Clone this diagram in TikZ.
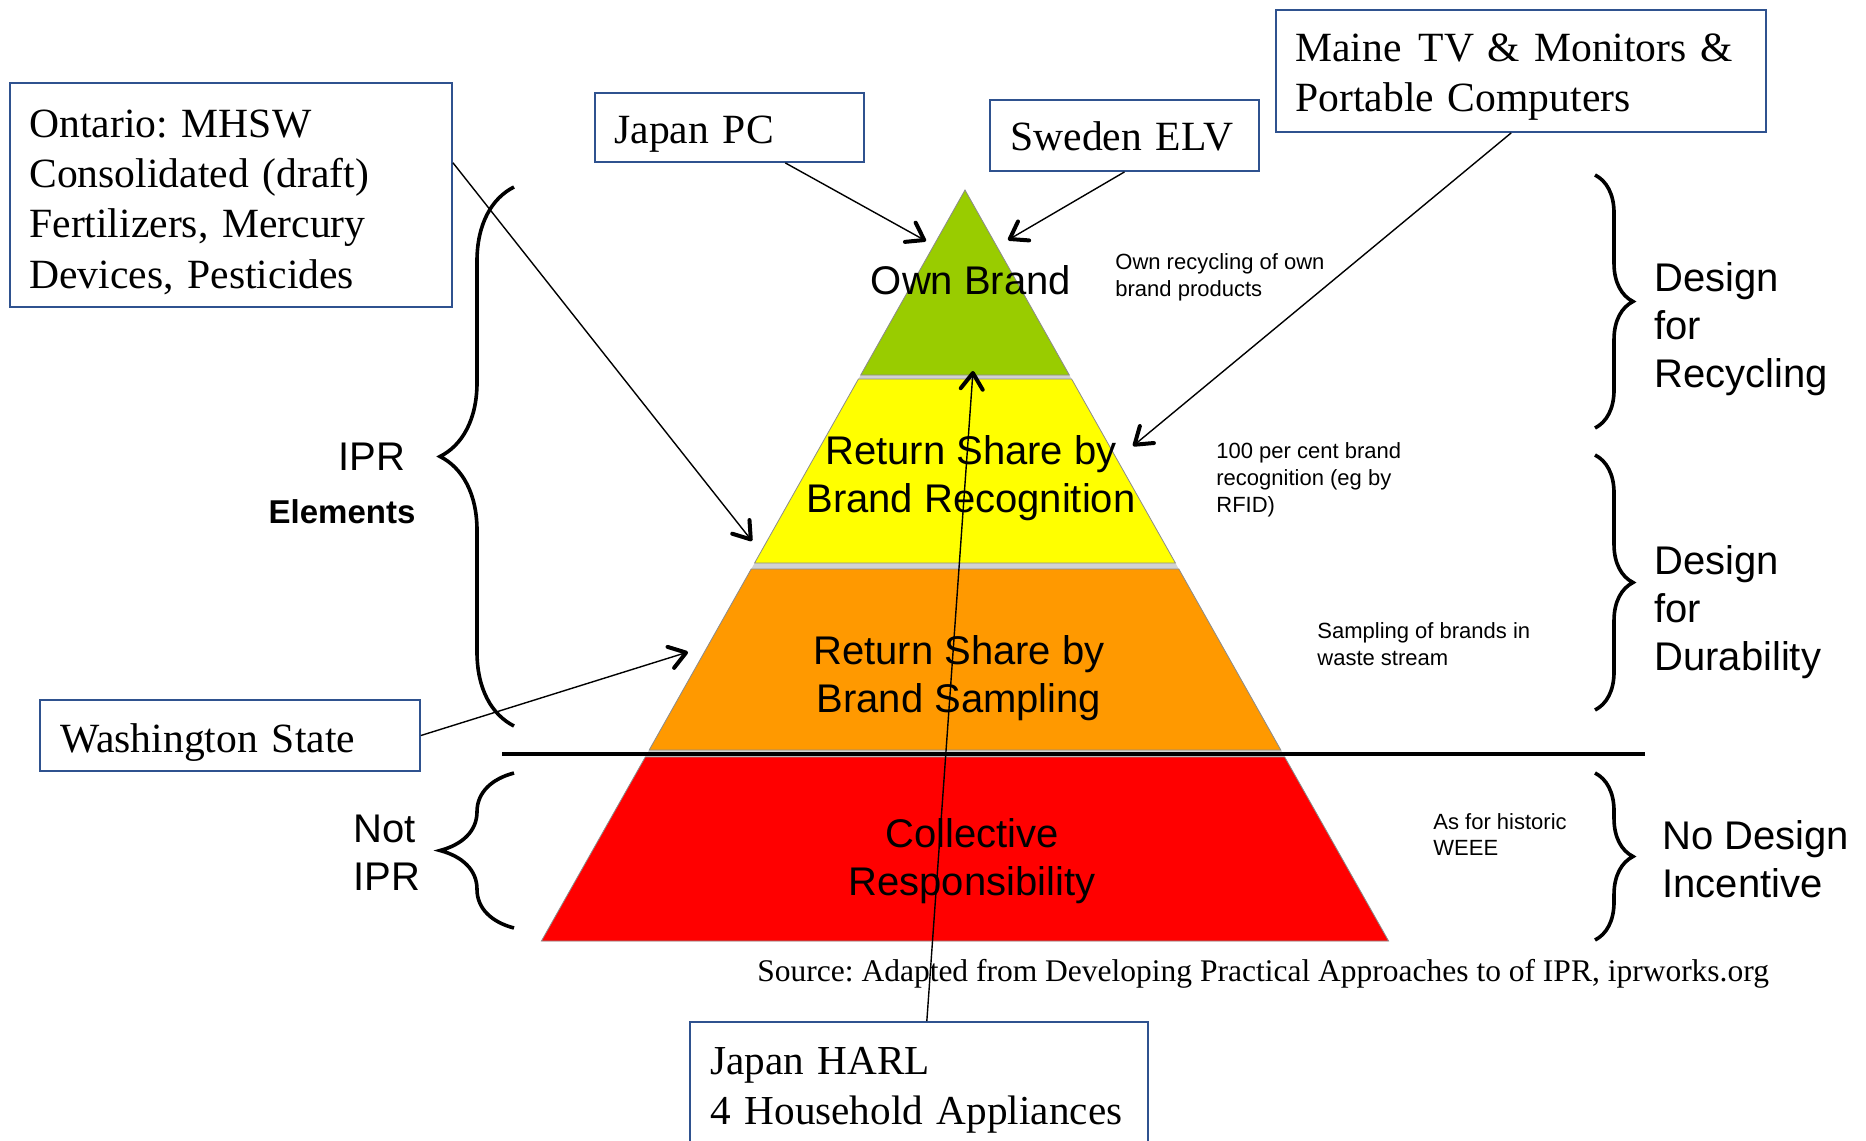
\documentclass[tikz,border=0pt]{standalone}
\usepackage{fontspec}
\setmainfont{Liberation Serif}
\newfontfamily\arialf{Liberation Sans}
\usetikzlibrary{arrows.meta,decorations.pathreplacing,calc}
\definecolor{pgreen}{RGB}{153,204,0}
\definecolor{pyellow}{RGB}{255,255,0}
\definecolor{porange}{RGB}{255,153,0}
\definecolor{pred}{RGB}{255,0,0}
\definecolor{boxblue}{RGB}{47,82,143}
\frenchspacing
\begin{document}
\begin{tikzpicture}[x=0.5pt,y=-0.5pt,
  band/.style={draw=black!45, line width=0.4pt},
  pyrtext/.style={font=\arialf\fontsize{20pt}{24pt}\selectfont, align=center, inner sep=0pt},
  note/.style={font=\arialf\fontsize{11pt}{13.6pt}\selectfont, align=left, anchor=west, inner sep=0pt},
  side/.style={font=\arialf\fontsize{20pt}{24pt}\selectfont, align=left, anchor=west, inner sep=0pt},
  frame/.style={draw=boxblue, line width=0.9pt, fill=white, inner sep=0pt},
  boxtext/.style={font=\fontsize{20.8pt}{25.2pt}\selectfont, align=left, text width=260pt, anchor=base west, inner sep=0pt},
  conn/.style={line width=0.7pt, -{Straight Barb[length=8pt,width=11pt,line width=2pt,round]}},
  lbrace/.style={decorate, decoration={brace, amplitude=37pt}, line width=1.8pt},
  rbrace/.style={decorate, decoration={brace, amplitude=19pt}, line width=1.8pt}
]
\clip (0,0) rectangle (1866,1140);
\fill[white] (0,0) rectangle (1866,1140);

% pyramid
\fill[gray!35] (965,190) -- (1388.6,941) -- (541.4,941) -- cycle;
\filldraw[band, fill=pgreen] (965,190) -- (1069.3,375) -- (860.7,375) -- cycle;
\filldraw[band, fill=pyellow] (858.4,379) -- (1071.6,379) -- (1175.4,563) -- (754.6,563) -- cycle;
\filldraw[band, fill=porange] (751.2,569) -- (1178.8,569) -- (1280.8,750) -- (649.2,750) -- cycle;
\filldraw[band, fill=pred] (645.3,757) -- (1284.7,757) -- (1388.6,941) -- (541.4,941) -- cycle;
\draw[line width=2.2pt] (502,754) -- (1645,754);

\node[pyrtext] (own) at (971,280) {Own Brand};
\node[pyrtext] (rec) at (971,478) {Return Share by\\Brand Recognition};
\node[pyrtext] (samp) at (959,678) {Return Share by\\Brand Sampling};
\node[pyrtext] (coll) at (972,861) {Collective\\Responsibility};

% notes
\node[note] (n1) at (1115,277) {Own recycling of own\\brand products};
\node[note] (n2) at (1216,480) {100 per cent brand\\recognition (eg by\\RFID)};
\node[note] (n3) at (1317,644) {Sampling of brands in\\waste stream};
\node[note, font=\arialf\fontsize{11pt}{13pt}\selectfont] (n4) at (1433,835) {As for historic\\WEEE};

% right braces and labels
\draw[rbrace] (1595,175) -- (1595,428);
\draw[rbrace] (1595,455) -- (1595,710);
\draw[rbrace] (1595,773) -- (1595,940);
\node[side] (dfr) at (1654,329) {Design\\for\\Recycling};
\node[side] (dfd) at (1654,612) {Design\\for\\Durability};
\node[side] (ndi) at (1662,859) {No Design\\Incentive};

% left braces and labels
\draw[lbrace] (514,726) -- (514,187);
\draw[lbrace] (514,928) -- (514,773);
\node[pyrtext] (ipr) at (372,457) {IPR};
\node[font=\arialf\bfseries\fontsize{16.5pt}{20pt}\selectfont, inner sep=0pt] (elem) at (342,512) {Elements};
\node[side] (notipr) at (353,853) {Not\\IPR};

% source
\node[font=\fontsize{15.75pt}{19pt}\selectfont, anchor=west, inner sep=0pt] (src) at (757,974) {Source: Adapted from Developing Practical Approaches to of IPR, iprworks.org};

% boxes (frames) and their texts
\node[frame, minimum width=221pt, minimum height=112pt] (ont) at (231,195) {};
\node[boxtext] (ontx) at (29,137) {Ontario: MHSW\\Consolidated (draft)\\Fertilizers, Mercury\\Devices, Pesticides};
\node[frame, minimum width=134.5pt, minimum height=34.5pt] (jpc) at (729.5,127.5) {};
\node[boxtext] (jpcx) at (614,143) {Japan PC};
\node[frame, minimum width=134.5pt, minimum height=35.5pt] (swe) at (1124.5,135.5) {};
\node[boxtext] (swex) at (1010,150) {Sweden ELV};
\node[frame, minimum width=245pt, minimum height=61pt] (maine) at (1521,71) {};
\node[boxtext] (mainex) at (1295,61) {Maine\hspace{8.5pt}TV \& Monitors \&\\Portable Computers};
\node[frame, minimum width=190pt, minimum height=35.5pt] (wash) at (230,735.5) {};
\node[boxtext] (washx) at (60,752) {Washington State};
\node[frame, minimum width=229pt, minimum height=64pt] (harl) at (919,1086) {};
\node[boxtext, font=\fontsize{20.6pt}{25.2pt}\selectfont] (harlx) at (710,1074) {Japan HARL\\4 Household Appliances};

% targets
\coordinate (tOnt) at (752,541);
\coordinate (tJpc) at (926,241);
\coordinate (tSwe) at (1008,240);
\coordinate (tMaine) at (1133,446);
\coordinate (tWash) at (688,652);
\coordinate (tHarl) at (973,371);

\draw[conn] ($(ont.north east)!0.357!(ont.south east)$) -- (tOnt);
\draw[conn] ($(jpc.south west)!0.706!(jpc.south east)$) -- (tJpc);
\draw[conn] (swe.south) -- (tSwe);
\draw[conn] ($(maine.south west)!0.48!(maine.south east)$) -- (tMaine);
\draw[conn] (wash.east) -- (tWash);
\draw[conn] ($(harl.north west)!0.517!(harl.north east)$) -- (tHarl);
\end{tikzpicture}
\end{document}
